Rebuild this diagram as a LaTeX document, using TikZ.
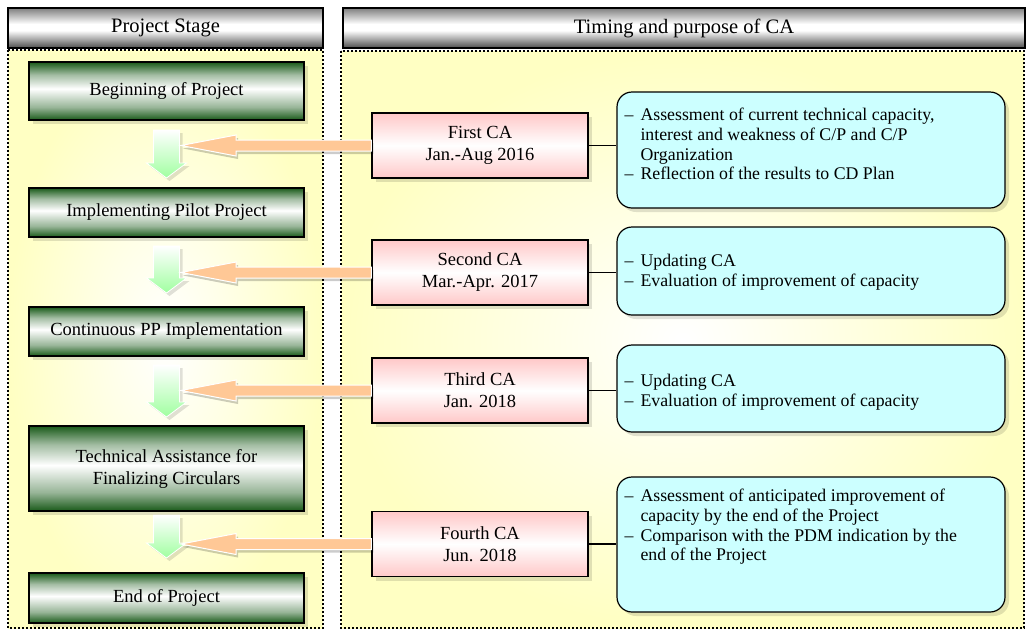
\documentclass[tikz,border=0pt]{standalone}
\usepackage{fontspec}
\setmainfont{Liberation Serif}
\usetikzlibrary{shadows,calc}
\definecolor{peach}{RGB}{255,200,150}
\definecolor{paleyellow}{RGB}{255,255,195}
\definecolor{cyanfill}{RGB}{204,255,255}
\definecolor{pinkfill}{RGB}{255,200,200}
\definecolor{darkgreen}{RGB}{25,90,25}
\definecolor{lightgreen}{RGB}{160,255,160}
\pgfdeclareverticalshading{stageshade}{100bp}{color(0bp)=(darkgreen); color(25bp)=(darkgreen); color(36bp)=(darkgreen!45!white); color(52bp)=(white); color(64bp)=(darkgreen!40!white); color(75bp)=(darkgreen); color(100bp)=(darkgreen)}
\pgfdeclareverticalshading{headshade}{100bp}{color(0bp)=(black!70); color(25bp)=(black!70); color(47bp)=(white); color(55bp)=(white); color(75bp)=(black!50); color(100bp)=(black!50)}
\pgfdeclareverticalshading{pinkshade}{100bp}{color(0bp)=(pinkfill); color(25bp)=(pinkfill); color(50bp)=(white); color(75bp)=(pinkfill); color(100bp)=(pinkfill)}
\newcommand{\oarrow}[2]{%
  \draw[oarrowstyle] ($(#1.west)+(0,-5.5)$) -- ($(#2)+(55,-5.5)$) -- ($(#2)+(55,-10.5)$) -- (#2)
     -- ($(#2)+(55,10.5)$) -- ($(#2)+(55,5.5)$) -- ($(#1.west)+(0,5.5)$) -- cycle;}
\begin{document}
\begin{tikzpicture}[x=1pt,y=-1pt,
  header/.style={draw=black, line width=1.2pt, shading=headshade, minimum height=40pt, inner sep=0pt,
     font=\fontsize{20.5}{24}\selectfont},
  panel/.style={draw=black, line width=2pt, dash pattern=on 2pt off 2pt, inner color=white, outer color=paleyellow},
  stagebox/.style={draw=black, line width=1.2pt, shading=stageshade, minimum width=275pt, inner sep=0pt, align=center,
     font=\fontsize{18.5}{22}\selectfont,
     drop shadow={shadow xshift=4pt, shadow yshift=-4pt, fill=black, opacity=0.12}},
  cabox/.style={draw=black, line width=1.2pt, shading=pinkshade, minimum width=216pt, minimum height=65pt, inner sep=0pt,
     align=center, font=\fontsize{18.5}{22}\selectfont,
     drop shadow={shadow xshift=4pt, shadow yshift=-4pt, fill=black, opacity=0.12}},
  purpose/.style={draw=black, line width=1.2pt, fill=cyanfill, rounded corners=15pt, minimum width=388pt, inner sep=0pt,
     drop shadow={shadow xshift=4pt, shadow yshift=-4pt, fill=black, opacity=0.12}},
  purposetext/.style={anchor=base west, inner sep=0pt, font=\fontsize{17.8}{19.8}\selectfont},
  garrow/.style={draw=white, line width=0.8pt, top color=white, bottom color=lightgreen,
     drop shadow={shadow xshift=3pt, shadow yshift=-3pt, fill=black, opacity=0.12}},
  oarrowstyle/.style={fill=peach, draw=white, line width=1pt,
     drop shadow={shadow xshift=2pt, shadow yshift=-3pt, fill=black, opacity=0.2}},
  link/.style={draw=black, line width=1.2pt}
]
\useasboundingbox (0,0) rectangle (1026,630);

% panels
\path[panel] (8,50) rectangle (323,628);
\path[panel] (341,51) rectangle (1024,628);

% headers
\node[header, minimum width=315pt] (h1) at (165.5,28) {Project Stage};
\node[header, minimum width=682pt] (h2) at (684,28) {Timing and purpose of CA};

% green down arrows
\foreach \t/\b in {130/178, 246/293, 365/417, 515/558}{
  \path[garrow] (153.5,\t) -- (179.5,\t) -- (179.5,\b-15) -- (186.5,\b-15) -- (166.5,\b)
     -- (146.5,\b-15) -- (153.5,\b-15) -- cycle;
}

% stage boxes
\node[stagebox, minimum height=58pt] (g1) at (166.5,91) {Beginning of Project};
\node[stagebox, minimum height=49pt] (g2) at (166.5,212.5) {Implementing Pilot Project};
\node[stagebox, minimum height=49pt] (g3) at (166.5,331.5) {Continuous PP Implementation};
\node[stagebox, minimum height=85pt] (g4) at (166.5,468.5) {Technical Assistance for\\Finalizing Circulars};
\node[stagebox, minimum height=50pt] (g5) at (166.5,598) {End of Project};

% CA boxes
\node[cabox] (ca1) at (480,145.5) {First CA\\Jan.-Aug 2016};
\node[cabox] (ca2) at (480,272.5) {Second CA\\Mar.-Apr. 2017};
\node[cabox] (ca3) at (480,390.5) {Third CA\\Jan. 2018};
\node[cabox] (ca4) at (480,544) {Fourth CA\\Jun. 2018};

% orange arrows
\coordinate (tip1) at (181,0 |- ca1.west);
\coordinate (tip2) at (181,0 |- ca2.west);
\coordinate (tip3) at (181,0 |- ca3.west);
\coordinate (tip4) at (181,0 |- ca4.west);
\oarrow{ca1}{tip1}
\oarrow{ca2}{tip2}
\oarrow{ca3}{tip3}
\oarrow{ca4}{tip4}

% purpose boxes
\node[purpose, minimum height=116pt] (d1) at (811,150) {};
\node[purpose, minimum height=88pt] (d2) at (811,271) {};
\node[purpose, minimum height=87pt] (d3) at (811,388.5) {};
\node[purpose, minimum height=135pt] (d4) at (811,544.5) {};

\node[purposetext] (t1) at ($(d1.north west)+(8,29)$) {\begin{tabular}[t]{@{}l@{\hspace{7pt}}l@{}}
\textendash & Assessment of current technical capacity,\\
 & interest and weakness of C/P and C/P\\
 & Organization\\
\textendash & Reflection of the results to CD Plan\end{tabular}};
\node[purposetext] (t2) at ($(d2.north west)+(8,40)$) {\begin{tabular}[t]{@{}l@{\hspace{7pt}}l@{}}
\textendash & Updating CA\\
\textendash & Evaluation of improvement of capacity\end{tabular}};
\node[purposetext] (t3) at ($(d3.north west)+(8,42)$) {\begin{tabular}[t]{@{}l@{\hspace{7pt}}l@{}}
\textendash & Updating CA\\
\textendash & Evaluation of improvement of capacity\end{tabular}};
\node[purposetext] (t4) at ($(d4.north west)+(8,25)$) {\begin{tabular}[t]{@{}l@{\hspace{7pt}}l@{}}
\textendash & Assessment of anticipated improvement of\\
 & capacity by the end of the Project\\
\textendash & Comparison with the PDM indication by the\\
 & end of the Project\end{tabular}};

% connectors
\draw[link] (ca1.east) -- (ca1.east -| d1.west);
\draw[link] (ca2.east) -- (ca2.east -| d2.west);
\draw[link] (ca3.east) -- (ca3.east -| d3.west);
\draw[link] (ca4.east) -- (ca4.east -| d4.west);
\end{tikzpicture}
\end{document}
